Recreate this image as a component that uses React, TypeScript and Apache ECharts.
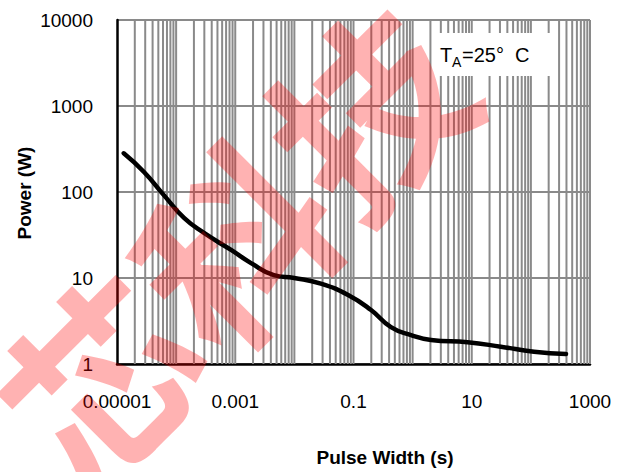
import React, { useEffect, useRef } from "react";
import * as echarts from "echarts";

// Data (log-log)
const pulseWidth = [1.3e-5, 2.86e-5, 6.2e-5, 1.36e-4, 2.96e-4, 8.5e-4, 1.85e-3, 4.5e-3, 9.9e-3, 0.028, 0.081, 0.198, 0.43, 0.94, 2.05, 8.5, 31, 113, 393];
const power = [282, 171, 92, 49.9, 33.4, 21.2, 14.9, 10.8, 10, 8.6, 6.35, 4.25, 2.69, 2.17, 1.9, 1.79, 1.59, 1.39, 1.31];

const xExponents = [-5, -4, -3, -2, -1, 0, 1, 2, 3];
const xTickExps = [-5, -3, -1, 1, 3];
const xTickLabels = ["0.00001", "0.001", "0.1", "10", "1000"];
const yTickExps = [0, 1, 2, 3, 4];
const yTickLabels = ["1", "10", "100", "1000", "10000"];
const gridMultipliers = [1, 2, 3, 4, 5, 6, 7, 8, 9];

const X_MIN = 1e-5;
const X_MAX = 1000;
const Y_MIN = 1;
const Y_MAX = 10000;

const FONT = "'Liberation Sans', Arial, sans-serif";

export default function App() {
  const ref = useRef<HTMLDivElement>(null);

  useEffect(() => {
    if (!ref.current) return;
    const chart = echarts.init(ref.current, undefined, { renderer: "svg" });

    const gridX: number[][] = [];
    xExponents.forEach((e) => {
      gridMultipliers.forEach((m) => {
        const v = m * Math.pow(10, e);
        if (v > X_MIN * 1.0001 && v <= X_MAX * 1.0001) gridX.push([v, Y_MIN]);
      });
    });

    const labelFor = (v: number, exps: number[], labels: string[]) => {
      const e = Math.round(Math.log10(v));
      const i = exps.indexOf(e);
      return i >= 0 ? labels[i] : "";
    };

    const option: any = {
      animation: false,
      grid: { left: 117, right: 30, top: 20, bottom: 108, containLabel: false },
      xAxis: {
        type: "log",
        logBase: 10,
        min: X_MIN,
        max: X_MAX,
        interval: 1,
        splitNumber: 8,
        axisLine: { show: true, onZero: false, lineStyle: { color: "#000", width: 2.5 } },
        axisTick: { show: false },
        splitLine: { show: false },
        axisLabel: {
          color: "#000",
          fontSize: 19,
          fontFamily: FONT,
          margin: 28,
          formatter: (v: number) => labelFor(v, xTickExps, xTickLabels),
        },
      },
      yAxis: {
        type: "log",
        logBase: 10,
        min: Y_MIN,
        max: Y_MAX,
        interval: 1,
        splitNumber: 4,
        axisLine: { show: true, onZero: false, lineStyle: { color: "#000", width: 2.5 } },
        axisTick: { show: false },
        splitLine: { show: true, lineStyle: { color: "#8a8a8a", width: 2 } },
        axisLabel: {
          color: "#000",
          fontSize: 19,
          fontFamily: FONT,
          margin: 24,
          formatter: (v: number) => labelFor(v, yTickExps, yTickLabels),
        },
      },
      series: [
        {
          type: "custom",
          z: 1,
          silent: true,
          data: gridX,
          encode: { x: 0, y: 1 },
          renderItem: (params: any, api: any) => {
            const v = api.value(0);
            const p1 = api.coord([v, Y_MIN]);
            const p2 = api.coord([v, Y_MAX]);
            return {
              type: "line",
              shape: { x1: p1[0], y1: p1[1], x2: p2[0], y2: p2[1] },
              style: { stroke: "#8a8a8a", lineWidth: 2 },
            };
          },
        },
        {
          type: "line",
          z: 5,
          data: pulseWidth.map((x, i) => [x, power[i]]),
          smooth: 0.5,
          symbol: "none",
          lineStyle: { color: "#000", width: 4.5, cap: "round", join: "round" },
        },
      ],
      graphic: [
        {
          type: "rect",
          shape: { x: 434, y: 33, width: 122, height: 43 },
          style: { fill: "#fff" },
          z: 50,
        },
        {
          type: "text",
          x: 440,
          y: 45,
          style: { text: "T", font: `20px ${FONT}`, fill: "#000" },
          z: 51,
        },
        {
          type: "text",
          x: 452,
          y: 55,
          style: { text: "A", font: `14px ${FONT}`, fill: "#000" },
          z: 51,
        },
        {
          type: "text",
          x: 462,
          y: 45,
          style: { text: "=25°  C", font: `20px ${FONT}`, fill: "#000" },
          z: 51,
        },
        {
          type: "text",
          x: 385,
          y: 457,
          style: {
            text: "Pulse Width (s)",
            font: `bold 19px ${FONT}`,
            fill: "#000",
            align: "center",
            verticalAlign: "middle",
          },
          z: 51,
        },
        {
          type: "text",
          x: 24,
          y: 193,
          rotation: Math.PI / 2,
          style: {
            text: "Power (W)",
            font: `bold 19px ${FONT}`,
            fill: "#000",
            align: "center",
            verticalAlign: "middle",
          },
          z: 51,
        },
        {
          type: "text",
          x: 230,
          y: 240,
          rotation: Math.PI / 4,
          style: {
            text: "芯科技",
            font: `bold 190px 'Noto Sans CJK SC', sans-serif`,
            fill: "rgba(255,0,0,0.3)",
            align: "center",
            verticalAlign: "middle",
          },
          z: 100,
        },
      ],
    };

    chart.setOption(option);
    return () => chart.dispose();
  }, []);

  return (
    <div
      ref={ref}
      style={{ position: "fixed", left: 0, top: 0, width: 620, height: 472, background: "#fff" }}
    />
  );
}
